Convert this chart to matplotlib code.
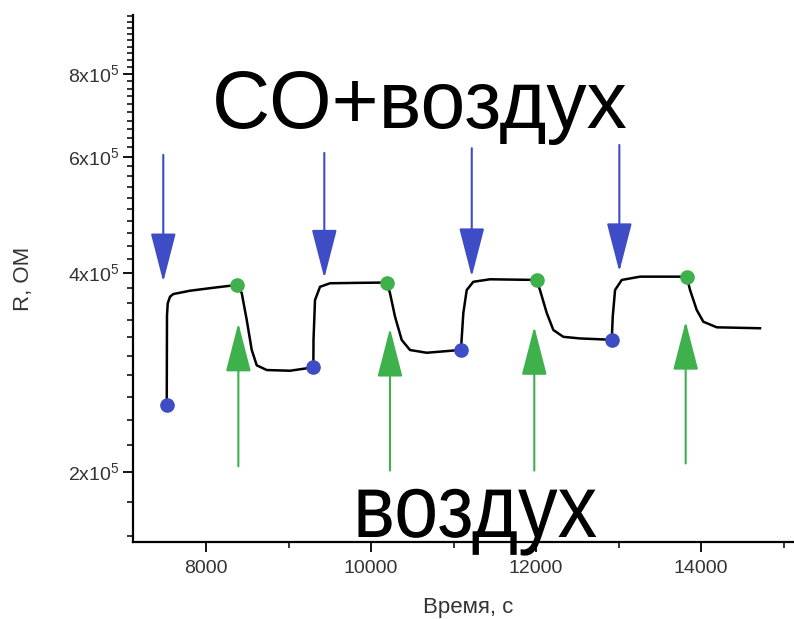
"""
Отклик сенсора на CO: сопротивление R(t) при переключении CO+воздух / воздух.
Сохраняет out.png (794x619).
"""

import matplotlib
matplotlib.use("Agg")
import matplotlib.pyplot as plt
from matplotlib.font_manager import FontProperties
from matplotlib.patches import PathPatch
from matplotlib.textpath import TextPath
from matplotlib.ticker import FixedLocator, FixedFormatter, NullFormatter
from matplotlib.transforms import Affine2D

plt.rcParams.update({
    "font.family": "Liberation Sans",
    "font.size": 14,
    "axes.linewidth": 1.6,
})

# Кривая сопротивления (время, с / R, Ом)
time_s = [7524, 7527, 7536, 7564, 7604, 7806, 8088, 8372,
          8433, 8493, 8554, 8615, 8736, 9018, 9301,
          9303, 9321, 9382, 9503, 9800, 10190,
          10230, 10291, 10372, 10473, 10675, 11090,
          11119, 11160, 11240, 11442, 12008,
          12048, 12130, 12210, 12331, 12533, 12918,
          12930, 12958, 13039, 13261, 13827,
          13867, 13948, 14028, 14190, 14715]
resist = [2.53e5, 3.45e5, 3.60e5, 3.684e5, 3.718e5, 3.761e5, 3.80e5, 3.837e5,
          3.73e5, 3.40e5, 3.06e5, 2.90e5, 2.853e5, 2.846e5, 2.88e5,
          3.17e5, 3.64e5, 3.813e5, 3.86e5, 3.865e5, 3.87e5,
          3.73e5, 3.436e5, 3.168e5, 3.059e5, 3.03e5, 3.06e5,
          3.48e5, 3.77e5, 3.88e5, 3.914e5, 3.905e5,
          3.77e5, 3.48e5, 3.28e5, 3.203e5, 3.185e5, 3.17e5,
          3.436e5, 3.77e5, 3.905e5, 3.95e5, 3.95e5,
          3.77e5, 3.517e5, 3.376e5, 3.311e5, 3.30e5]

# Моменты подачи CO (синие) и воздуха (зелёные)
co_on_t = [7524, 9301, 11090, 12918]
co_on_r = [2.53e5, 2.88e5, 3.06e5, 3.17e5]
air_on_t = [8372, 10190, 12008, 13827]
air_on_r = [3.837e5, 3.87e5, 3.905e5, 3.95e5]

# Стрелки: синие сверху вниз, зелёные снизу вверх
co_arrow_t = [7482, 9434, 11221, 13010]
co_arrow_from = [6.04e5, 6.08e5, 6.18e5, 6.25e5]
co_arrow_to = [3.88e5, 3.93e5, 3.95e5, 4.02e5]
air_arrow_t = [8392, 10230, 11979, 13814]
air_arrow_from = [2.04e5, 2.01e5, 2.01e5, 2.06e5]
air_arrow_to = [3.36e5, 3.30e5, 3.32e5, 3.38e5]

x_ticks = [8000, 10000, 12000, 14000]
x_minor = [9000, 11000, 13000, 15000]
y_ticks = [2e5, 4e5, 6e5, 8e5]
y_tick_labels = [r"2x10$^{\mathregular{5}}$", r"4x10$^{\mathregular{5}}$",
                 r"6x10$^{\mathregular{5}}$", r"8x10$^{\mathregular{5}}$"]
y_minor = [v * 1e4 for v in range(16, 100, 2)]

BLUE = "#3e4cc6"
GREEN = "#3eb04c"

fig = plt.figure(figsize=(7.94, 6.19), dpi=100)
ax = fig.add_axes([133 / 794, 77 / 619, 661 / 794, 527 / 619])

ax.plot(time_s, resist, color="black", lw=1.8, zorder=3)
ax.plot(co_on_t, co_on_r, "o", color=BLUE, ms=9.5, zorder=4)
ax.plot(air_on_t, air_on_r, "o", color=GREEN, ms=9.5, zorder=4)

arrow_style = "-|>,head_length=31,head_width=8"
for t, y0, y1 in zip(co_arrow_t, co_arrow_from, co_arrow_to):
    ax.annotate("", xy=(t, y1), xytext=(t, y0),
                arrowprops=dict(arrowstyle=arrow_style, mutation_scale=1,
                                color=BLUE, lw=1.5, shrinkA=0, shrinkB=0))
for t, y0, y1 in zip(air_arrow_t, air_arrow_from, air_arrow_to):
    ax.annotate("", xy=(t, y1), xytext=(t, y0),
                arrowprops=dict(arrowstyle=arrow_style, mutation_scale=1,
                                color=GREEN, lw=1.5, shrinkA=0, shrinkB=0))

ax.set_yscale("log")
ax.set_xlim(7115, 15127)
ax.set_ylim(1.567e5, 9.83e5)

ax.xaxis.set_major_locator(FixedLocator(x_ticks))
ax.xaxis.set_minor_locator(FixedLocator(x_minor))
ax.yaxis.set_major_locator(FixedLocator(y_ticks))
ax.yaxis.set_major_formatter(FixedFormatter(y_tick_labels))
ax.yaxis.set_minor_locator(FixedLocator(y_minor))
ax.yaxis.set_minor_formatter(NullFormatter())

ax.spines["top"].set_visible(False)
ax.spines["right"].set_visible(False)
ax.tick_params(which="major", length=7, width=1.3, labelsize=14, labelcolor="#333333")
ax.tick_params(which="minor", length=4, width=1.1)
ax.tick_params(axis="x", which="major", pad=6)
ax.tick_params(axis="y", which="major", pad=3)

ax.set_xlabel("Время, с", fontsize=16, color="#333333")
ax.xaxis.set_label_coords(0.507, -0.104)
ax.set_ylabel("R, ОМ", fontsize=16, color="#333333")
ax.yaxis.set_label_coords(-0.150, 0.5)

fig.text(212 / 794, 1 - 128 / 619, "CO+воздух", fontsize=58, ha="left", va="baseline")

# нижняя надпись в оригинале немного растянута по вертикали
bottom_path = TextPath((0, 0), "воздух", size=78, prop=FontProperties(family="Liberation Sans"))
bottom_patch = PathPatch(bottom_path, facecolor="black", edgecolor="none",
                         transform=Affine2D().scale(1.015, 1.15).translate(353, 619 - 537),
                         zorder=5)
fig.add_artist(bottom_patch)

fig.savefig("out.png", dpi=100)
